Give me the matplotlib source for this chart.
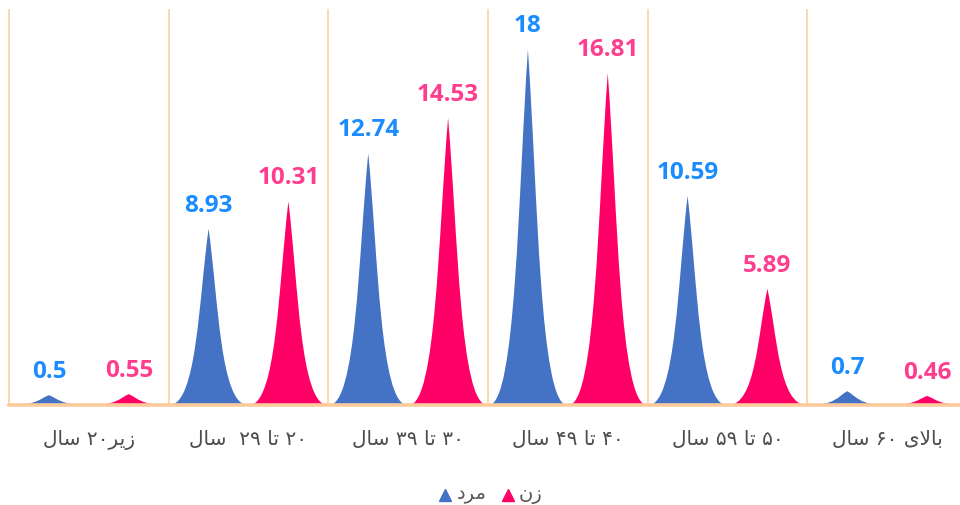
import re
import matplotlib
matplotlib.use("Agg")
import matplotlib.pyplot as plt
from matplotlib.path import Path
from matplotlib.patches import PathPatch
from matplotlib.lines import Line2D

# data
categories = ["زیر۲۰ سال", "۲۰ تا ۲۹  سال", "۳۰ تا ۳۹ سال", "۴۰ تا ۴۹ سال", "۵۰ تا ۵۹ سال", "بالای ۶۰ سال"]
men = [0.5, 8.93, 12.74, 18, 10.59, 0.7]
women = [0.55, 10.31, 14.53, 16.81, 5.89, 0.46]
series_names = ["مرد", "زن"]

bar_colors = ["#4472C4", "#FF0066"]
label_colors = ["#1A8CFF", "#FF3D8F"]
grid_color = "#FCD6B2"

# minimal Persian shaping (matplotlib has no complex text layout)
FORMS = {
    'ا': ('\uFE8D', '\uFE8E', None, None),
    'ب': ('\uFE8F', '\uFE90', '\uFE91', '\uFE92'),
    'ت': ('\uFE95', '\uFE96', '\uFE97', '\uFE98'),
    'د': ('\uFEA9', '\uFEAA', None, None),
    'ر': ('\uFEAD', '\uFEAE', None, None),
    'ز': ('\uFEAF', '\uFEB0', None, None),
    'س': ('\uFEB1', '\uFEB2', '\uFEB3', '\uFEB4'),
    'ل': ('\uFEDD', '\uFEDE', '\uFEDF', '\uFEE0'),
    'م': ('\uFEE1', '\uFEE2', '\uFEE3', '\uFEE4'),
    'ن': ('\uFEE5', '\uFEE6', '\uFEE7', '\uFEE8'),
    'ی': ('\uFBFC', '\uFBFD', '\uFBFE', '\uFBFF'),
}


def shape(text):
    out = []
    n = len(text)
    i = 0
    while i < n:
        c = text[i]
        if c not in FORMS:
            out.append(c)
            i += 1
            continue
        prev = text[i - 1] if i > 0 else None
        joins_prev = prev in FORMS and FORMS[prev][2] is not None
        if c == 'ل' and i + 1 < n and text[i + 1] == 'ا':
            out.append('\uFEFC' if joins_prev else '\uFEFB')
            i += 2
            continue
        nxt = text[i + 1] if i + 1 < n else None
        joins_next = nxt in FORMS and FORMS[c][2] is not None
        iso, fin, ini, med = FORMS[c]
        if joins_prev and joins_next:
            out.append(med)
        elif joins_prev:
            out.append(fin)
        elif joins_next:
            out.append(ini)
        else:
            out.append(iso)
        i += 1
    return ''.join(out)


def rtl(text):
    s = shape(text)[::-1]
    return re.sub(r'[\u06F0-\u06F90-9]+', lambda m: m.group(0)[::-1], s)


def spike(xc, half, h):
    verts = [(xc - half, 0), (xc + half, 0),
             (xc + 0.3 * half, 0), (xc + 0.25 * half, 0.6 * h), (xc, h),
             (xc - 0.25 * half, 0.6 * h), (xc - 0.3 * half, 0), (xc - half, 0),
             (xc - half, 0)]
    codes = [Path.MOVETO, Path.LINETO,
             Path.CURVE4, Path.CURVE4, Path.CURVE4,
             Path.CURVE4, Path.CURVE4, Path.CURVE4,
             Path.CLOSEPOLY]
    return Path(verts, codes)


fig = plt.figure(figsize=(9.6, 5.05), dpi=100)
ax = fig.add_axes([9 / 960, 100 / 505, 958 / 960, 395 / 505])
ax.set_xlim(0, len(categories))
ax.set_ylim(0, 20)
ax.axis("off")

for k in range(len(categories) + 1):
    ax.axvline(k, color=grid_color, lw=1.4, zorder=1, clip_on=False)
ax.axhline(0, color="#FCCB9C", lw=2.6, zorder=4, clip_on=False)

offsets = [-0.25, 0.25]
for s, vals in enumerate([men, women]):
    for i, v in enumerate(vals):
        xc = i + 0.5 + offsets[s]
        ax.add_patch(PathPatch(spike(xc, 0.245, v), facecolor=bar_colors[s],
                               edgecolor="none", zorder=3))
        ax.annotate(f"{v:g}", (xc, v), xytext=(0, 8), textcoords="offset points",
                    ha="center", va="bottom", fontsize=17.5, fontweight="bold",
                    family=["Open Sans", "DejaVu Sans"], color=label_colors[s])

for i, c in enumerate(categories):
    ax.text(i + 0.5, -35 / 395, rtl(c), transform=ax.get_xaxis_transform(),
            ha="center", va="center", fontsize=14.5, color="#4D4D4D",
            family="DejaVu Sans")

# legend
leg_y = 1 - 495 / 505
leg_items = [(445, 472), (508, 531)]
for s, (mx, tx) in enumerate(leg_items):
    fig.add_artist(Line2D([mx / 960], [leg_y], marker="^", markersize=8.5,
                          color=bar_colors[s], transform=fig.transFigure))
    fig.text(tx / 960, leg_y, rtl(series_names[s]), ha="center", va="center",
             fontsize=14, color="#555555", family="DejaVu Sans")

fig.savefig("out.png", dpi=100, facecolor="white")
